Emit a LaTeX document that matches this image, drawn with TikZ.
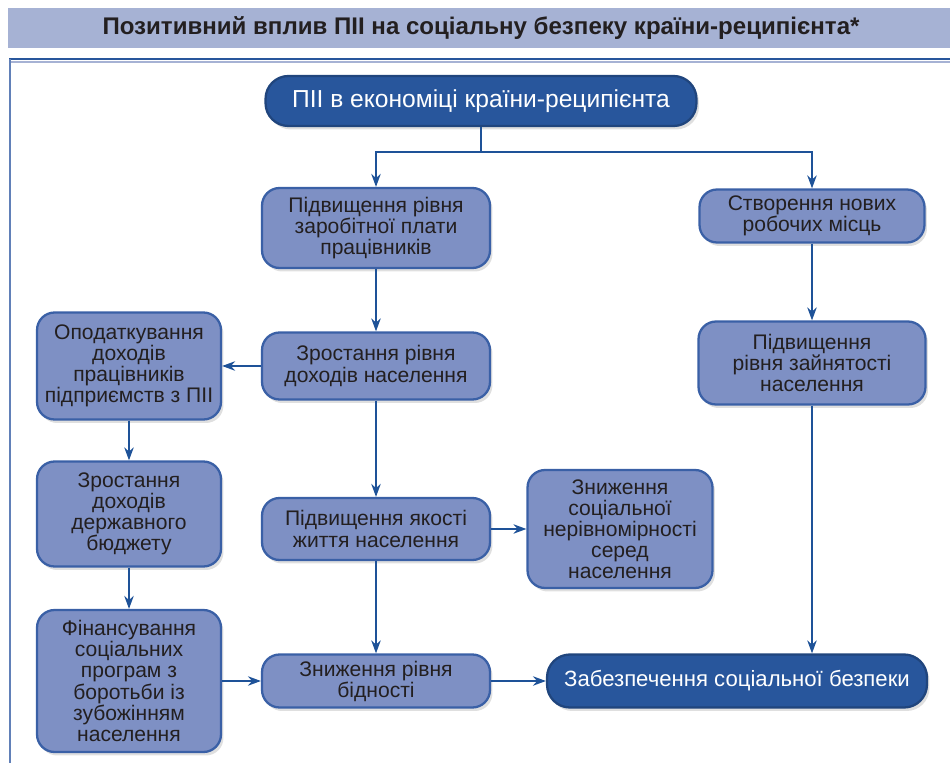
\documentclass[tikz,border=0pt]{standalone}
\usepackage{fontspec}
\setmainfont{Liberation Sans}
\usepackage{tikz}
\usetikzlibrary{arrows.meta,calc,positioning,shadows}
\definecolor{navy}{RGB}{40,86,156}
\definecolor{lilac}{RGB}{126,144,196}
\definecolor{rim}{RGB}{58,96,166}
\definecolor{band}{RGB}{166,178,212}
\definecolor{wire}{RGB}{30,82,152}
\definecolor{ink}{RGB}{35,31,32}

\begin{document}
\begin{tikzpicture}[
    x=0.02cm,y=-0.02cm,
    softbox/.style={draw=rim,line width=1.3pt,fill=lilac,rounded corners=10pt,
      align=center,inner sep=2pt,text=ink,font=\fontsize{12}{12}\selectfont,
      drop shadow={opacity=0.25,shadow xshift=0.5mm,shadow yshift=-0.7mm}},
    darkbox/.style={softbox,fill=navy,draw=navy!80!black,text=white,
      rounded corners=13pt},
    arrow/.style={-{Stealth[length=2.6mm,width=1.9mm]},line width=0.9pt,draw=wire}
  ]
    \useasboundingbox (0,0) rectangle (950,763);
    % title band and frame
    \fill[band] (8,8) rectangle (950,48);
    \node[font=\bfseries\fontsize{13.7}{15}\selectfont,text=ink] (title) at (481,28)
      {Позитивний вплив ПІІ на соціальну безпеку країни-реципієнта*};
    \draw[line width=1.6pt,draw=navy] (9,59) -- (950,59);
    \draw[line width=0.8pt,draw=band] (9,62) -- (950,62);
    \draw[line width=1.2pt,draw=rim!80] (10,59) -- (10,763);

    \node[darkbox,minimum width=8.62cm,minimum height=1cm,
      font=\fontsize{14}{15}\selectfont] (pii) at (481,101)
      {ПІІ в економіці країни-реципієнта};
    \node[softbox,minimum width=4.56cm,minimum height=1.6cm] (wages) at (376,228)
      {Підвищення рівня\\заробітної плати\\працівників};
    \node[softbox,minimum width=4.5cm,minimum height=1.06cm] (jobs) at (812,216)
      {Створення нових\\робочих місць};
    \node[softbox,minimum width=3.68cm,minimum height=2.14cm] (tax) at (129,366)
      {Оподаткування\\доходів\\працівників\\підприємств з ПІІ};
    \node[softbox,minimum width=4.56cm,minimum height=1.34cm] (income) at (376,366)
      {Зростання рівня\\доходів населення};
    \node[softbox,minimum width=4.54cm,minimum height=1.66cm] (employ) at (812,363)
      {Підвищення\\рівня зайнятості\\населення};
    \node[softbox,minimum width=3.68cm,minimum height=2.1cm] (budget) at (129,514)
      {Зростання\\доходів\\державного\\бюджету};
    \node[softbox,minimum width=4.56cm,minimum height=1.24cm] (life) at (376,529)
      {Підвищення якості\\життя населення};
    \node[softbox,minimum width=3.7cm,minimum height=2.36cm] (inequal) at (620,529)
      {Зниження\\соціальної\\нерівномірності\\серед\\населення};
    \node[softbox,minimum width=3.68cm,minimum height=2.84cm] (fund) at (129,681)
      {Фінансування\\соціальних\\програм з\\боротьби із\\зубожінням\\населення};
    \node[softbox,minimum width=4.56cm,minimum height=1.06cm] (poverty) at (376,681)
      {Зниження рівня\\бідності};
    \node[darkbox,minimum width=7.6cm,minimum height=1.06cm,
      font=\fontsize{12.6}{14}\selectfont] (secur) at (737,681)
      {Забезпечення соціальної безпеки};

    % connectors
    \coordinate (fork) at (481,152);
    \draw[line width=0.9pt,draw=wire] (pii) -- (fork);
    \draw[arrow] (fork) -| (wages);
    \draw[arrow] (fork) -| (jobs);
    \draw[arrow] (wages) -- (income);
    \draw[arrow] (income) -- (tax);
    \draw[arrow] (income) -- (life);
    \draw[arrow] (life) -- (inequal);
    \draw[arrow] (life) -- (poverty);
    \draw[arrow] (tax) -- (budget);
    \draw[arrow] (budget) -- (fund);
    \draw[arrow] (fund) -- (poverty);
    \draw[arrow] (poverty) -- (secur);
    \draw[arrow] (jobs) -- (employ);
    \draw[arrow] (employ) -- (employ |- secur.north);
  \end{tikzpicture}
\end{document}
